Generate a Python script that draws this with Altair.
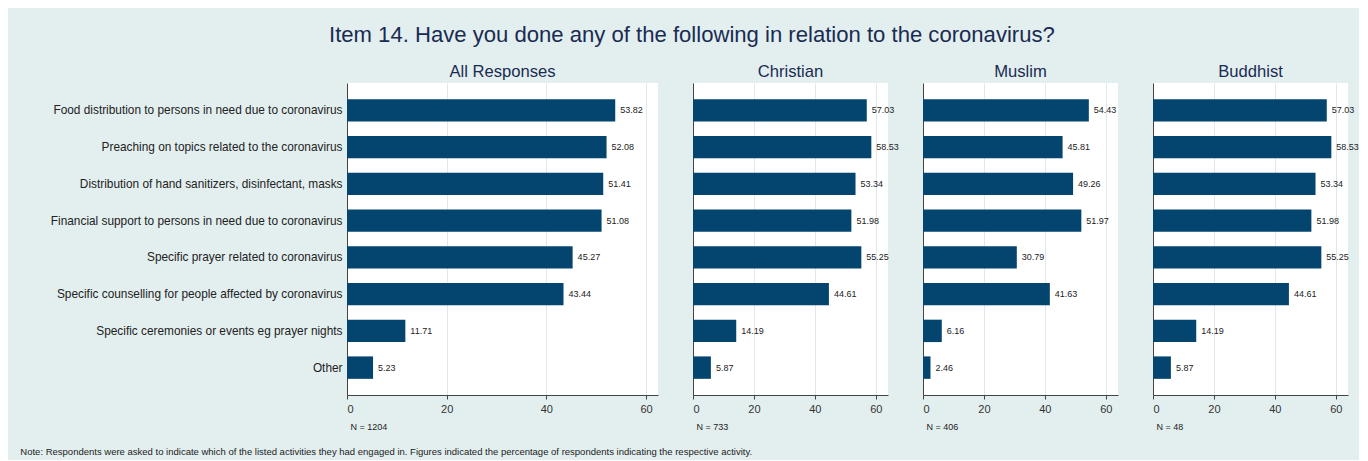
import altair as alt
import pandas as pd

categories = [
    "Food distribution to persons in need due to coronavirus",
    "Preaching on topics related to the coronavirus",
    "Distribution of hand sanitizers, disinfectant, masks",
    "Financial support to persons in need due to coronavirus",
    "Specific prayer related to coronavirus",
    "Specific counselling for people affected by coronavirus",
    "Specific ceremonies or events eg prayer nights",
    "Other",
]
groups = ["All Responses", "Christian", "Muslim", "Buddhist"]
n_values = [1204, 733, 406, 48]

all_vals = [53.82, 52.08, 51.41, 51.08, 45.27, 43.44, 11.71, 5.23]
christian_vals = [57.03, 58.53, 53.34, 51.98, 55.25, 44.61, 14.19, 5.87]
muslim_vals = [54.43, 45.81, 49.26, 51.97, 30.79, 41.63, 6.16, 2.46]
buddhist_vals = [57.03, 58.53, 53.34, 51.98, 55.25, 44.61, 14.19, 5.87]
tick_values = [0, 20, 40, 60]

title_text = "Item 14. Have you done any of the following in relation to the coronavirus?"
note_text = ("Note: Respondents were asked to indicate which of the listed activities they had engaged in. "
             "Figures indicated the percentage of respondents indicating the respective activity.")

series = [all_vals, christian_vals, muslim_vals, buddhist_vals]
domain_max = [62.4, 64.0, 64.0, 64.0]
widths = [311, 195, 195, 195]

BAR = "#03456f"
BG = "#e3efef"
NAVY = "#1a2b52"
TXT = "#222222"
AX = "#444444"
GRID = "#dde9ea"

panels = []
for i, (g, vals, n) in enumerate(zip(groups, series, n_values)):
    df = pd.DataFrame({
        "activity": categories,
        "pct": vals,
        "label": [f"{v:.2f}" for v in vals],
    })
    base = alt.Chart(df)
    yaxis = alt.Axis(
        title=None, labels=(i == 0), ticks=False, domain=True,
        domainColor=AX, labelFontSize=11.85, labelColor=TXT,
        labelPadding=5, labelLimit=500, grid=False,
    )
    y = alt.Y("activity:N", sort=categories, axis=yaxis,
              scale=alt.Scale(paddingInner=0.39, paddingOuter=0.44))
    xaxis = alt.Axis(
        values=tick_values, format="d", title=f"N = {n}",
        titleX=3, titleY=27, titleAlign="left", titleBaseline="top",
        titleFontSize=9, titleFontWeight="normal", titleColor=TXT,
        labelFontSize=11, labelColor="#333333", labelPadding=4.5,
        tickSize=4, tickColor=AX, domainColor=AX,
        grid=True, gridColor=GRID,
    )
    x = alt.X("pct:Q", axis=xaxis,
              scale=alt.Scale(domain=[0, domain_max[i]], nice=False, zero=True))
    bars = base.mark_bar(color=BAR).encode(x=x, y=y)
    text = base.mark_text(align="left", baseline="middle", dx=5, fontSize=9,
                          color=TXT).encode(
        x=alt.X("pct:Q"), y=alt.Y("activity:N", sort=categories), text="label:N")
    panel = alt.layer(bars, text).properties(
        width=widths[i], height=312,
        title=alt.TitleParams(g, fontSize=16.6, color=NAVY, fontWeight="normal", offset=2),
    )
    panels.append(panel)

inner = alt.hconcat(*panels, spacing=35, bounds="flush").properties(
    title=alt.TitleParams(title_text, fontSize=22.1, color=NAVY, fontWeight="normal",
                          anchor="start", frame="group", dx=-18, offset=17)
)

chart = alt.vconcat(inner).properties(
    title=alt.TitleParams(note_text, orient="bottom", anchor="start", frame="bounds",
                          fontSize=9.5, color=TXT, fontWeight="normal", dx=-30, offset=16),
    padding={"left": 12, "top": 16, "right": 0, "bottom": 3},
).configure(
    background=BG, font="Liberation Sans"
).configure_view(
    fill="white", strokeWidth=0
)

chart.save("out.html", embed_options={"renderer": "svg", "actions": False})
